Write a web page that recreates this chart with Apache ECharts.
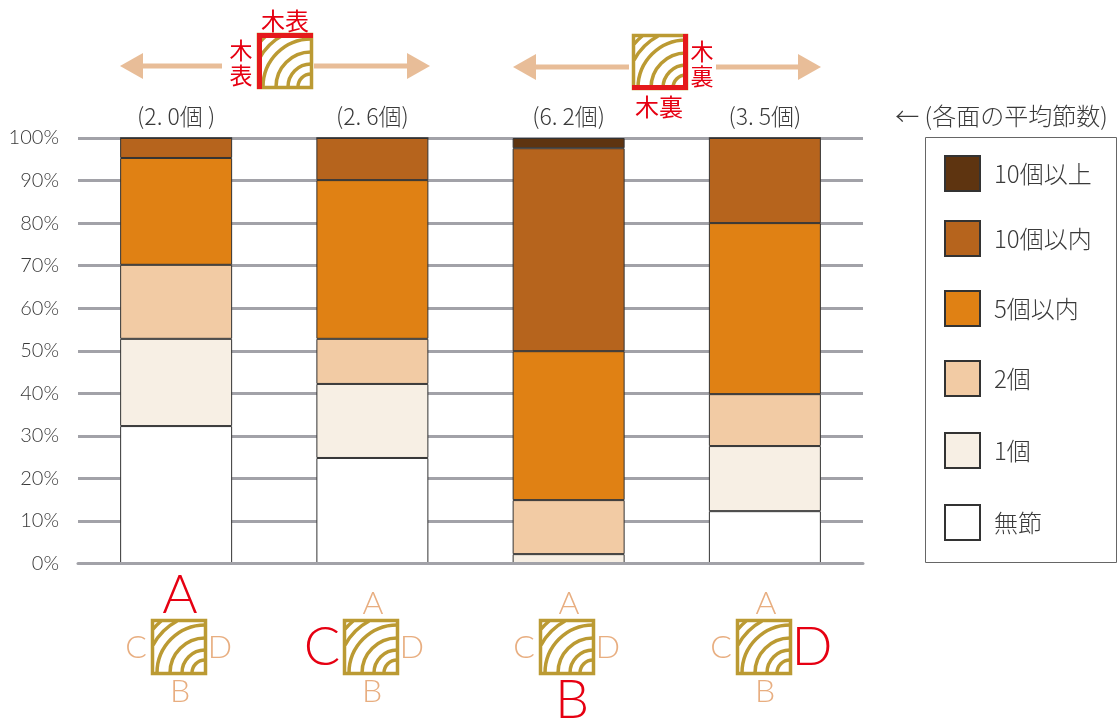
<!DOCTYPE html>
<html>
<head>
<meta charset="utf-8">
<style>html,body{margin:0;padding:0;background:#fff}#c{width:1118px;height:722px}</style>
<script src="https://cdn.jsdelivr.net/npm/echarts@6/dist/echarts.min.js"></script>
</head>
<body>
<div id="c"></div>
<script>
// Knot counts per board face, percent of boards in each class
const faces = ['A', 'C', 'B', 'D'];
const averages = ['(2. 0個 )', '(2. 6個)', '(6. 2個)', '(3. 5個)'];
const seriesNames = ['無節', '1個', '2個', '5個以内', '10個以内', '10個以上'];
const none = [32.3, 24.8, 0, 12.3];
const one = [20.5, 17.4, 2.2, 15.3];
const two = [17.4, 10.6, 12.7, 12.2];
const upToFive = [25.1, 37.3, 35.0, 40.2];
const upToTen = [4.7, 9.9, 47.7, 20.0];
const overTen = [0, 0, 2.4, 0];
const colors = ['#FFFFFF', '#F7EFE4', '#F2CBA4', '#E08114', '#B6641D', '#5E3410'];
const legendTops = [504, 432, 360, 290, 220, 155];

const JP = '"Noto Sans CJK JP"';
const LATIN = 'Lato';
const INK = '#3a3a3a', RED = '#E60012', TAN = '#E8AE80', ARROW = '#E8BD98', GOLD = '#BB9A33';

const values = [none, one, two, upToFive, upToTen, overTen];

function label(text, x, y, size, fill, family, weight) {
  return { type: 'text', z: 20, silent: true, x, y,
    style: { text, fill, fontSize: size, fontFamily: family || JP, fontWeight: weight || 400,
      align: 'center', verticalAlign: 'middle' } };
}

// Square board section with growth rings curving around its lower right corner
function board(x0, y0, redSides) {
  const S = 56, items = [];
  const cx = x0 + S - 2, cy = y0 + S - 2;
  [13, 23, 35, 48, 59, 68].forEach(r => {
    const cut = r > S - 4 ? Math.acos((S - 4) / r) : 0;
    items.push({ type: 'arc', z: 18, silent: true,
      shape: { cx, cy, r, startAngle: Math.PI + cut, endAngle: Math.PI * 1.5 - cut, clockwise: true },
      style: { stroke: GOLD, lineWidth: 3.5, fill: null } });
  });
  items.push({ type: 'rect', z: 19, silent: true,
    shape: { x: x0 + 1.5, y: y0 + 1.5, width: S - 3, height: S - 3 },
    style: { fill: null, stroke: GOLD, lineWidth: 3.5 } });
  const bars = {
    top: { x: x0, y: y0, width: S, height: 5 },
    left: { x: x0, y: y0, width: 5, height: S },
    right: { x: x0 + S - 5, y: y0, width: 5, height: S },
    bottom: { x: x0, y: y0 + S - 5, width: S, height: 5 }
  };
  (redSides || []).forEach(k => items.push({ type: 'rect', z: 19, silent: true,
    shape: bars[k], style: { fill: '#E5191C' } }));
  return items;
}

function arrow(from, to, y) {
  const dir = to > from ? 1 : -1, base = to - dir * 23;
  return [
    { type: 'line', z: 18, silent: true, shape: { x1: from, y1: y, x2: base, y2: y },
      style: { stroke: ARROW, lineWidth: 5 } },
    { type: 'polygon', z: 18, silent: true,
      shape: { points: [[to, y], [base, y - 13], [base, y + 13]] }, style: { fill: ARROW } }
  ];
}

// Small face letters around a board; the measured face is large and red
function faceLabels(x0, y0, active) {
  const spots = {
    A: [x0 + 30, y0 - 15, x0 + 29, y0 - 23],
    B: [x0 + 29, y0 + 73, x0 + 33, y0 + 82],
    C: [x0 - 15, y0 + 29, x0 - 21, y0 + 29],
    D: [x0 + 69, y0 + 29, x0 + 76, y0 + 29]
  };
  return Object.keys(spots).map(k => {
    const p = spots[k];
    return k === active
      ? label(k, p[2], p[3], 54, RED, LATIN, 300)
      : label(k, p[0], p[1], 32, TAN, LATIN, 300);
  });
}

const lowerBoards = [[151, 'A'], [343, 'C'], [539, 'B'], [736, 'D']];
const decorations = [
  ...arrow(222, 120, 66), ...arrow(314, 430, 66),
  ...arrow(629, 513, 67), ...arrow(716, 821, 67),
  ...board(257, 33, ['top', 'left']),
  ...board(632, 34, ['right', 'bottom']),
  label('木表', 285, 21, 24, RED), label('木', 241, 50, 23, RED), label('表', 241, 75, 23, RED),
  label('木裏', 659, 107, 24, RED), label('木', 702, 51, 23, RED), label('裏', 702, 76, 23, RED),
  label('← (各面の平均節数)', 1001.5, 116, 24, INK, JP, 300),
  { type: 'rect', z: 1, silent: true, shape: { x: 925.5, y: 137.5, width: 191, height: 425 },
    style: { fill: '#fff', stroke: '#666', lineWidth: 1 } },
  ...lowerBoards.flatMap(([x, k]) => [...board(x, 619), ...faceLabels(x, 619, k)])
];

const chart = echarts.init(document.getElementById('c'));
chart.setOption({
  animation: false,
  backgroundColor: '#fff',
  grid: { left: 78, right: 255, top: 138, bottom: 158.5 },
  legend: seriesNames.map((name, i) => ({
    data: [{ name, icon: 'rect' }], left: 944, top: legendTops[i], padding: 0, orient: 'vertical',
    itemWidth: 35, itemHeight: 35, selectedMode: false,
    textStyle: { fontSize: 24, color: INK, fontFamily: JP, fontWeight: 300, padding: [0, 0, 0, 9] }
  })),
  xAxis: [
    { type: 'category', data: faces, position: 'bottom', z: 5,
      axisLine: { lineStyle: { color: '#A2A2A8', width: 3 } },
      axisTick: { show: false }, axisLabel: { show: false } },
    { type: 'category', data: averages, position: 'top',
      axisLine: { show: false }, axisTick: { show: false },
      axisLabel: { fontSize: 23, color: INK, fontFamily: JP, fontWeight: 300, margin: 10 } }
  ],
  yAxis: {
    type: 'value', min: 0, max: 100, interval: 10,
    axisLine: { show: false }, axisTick: { show: false },
    axisLabel: { formatter: '{value}%', fontSize: 20, color: INK, fontFamily: LATIN, fontWeight: 300, margin: 19 },
    splitLine: { lineStyle: { color: '#A2A2A8', width: 3 } }
  },
  series: seriesNames.map((name, i) => ({
    name, type: 'bar', stack: 'share', barWidth: 112, data: values[i],
    itemStyle: { color: colors[i], borderColor: '#333', borderWidth: 1 }
  })),
  graphic: { elements: decorations }
});
</script>
</body>
</html>
